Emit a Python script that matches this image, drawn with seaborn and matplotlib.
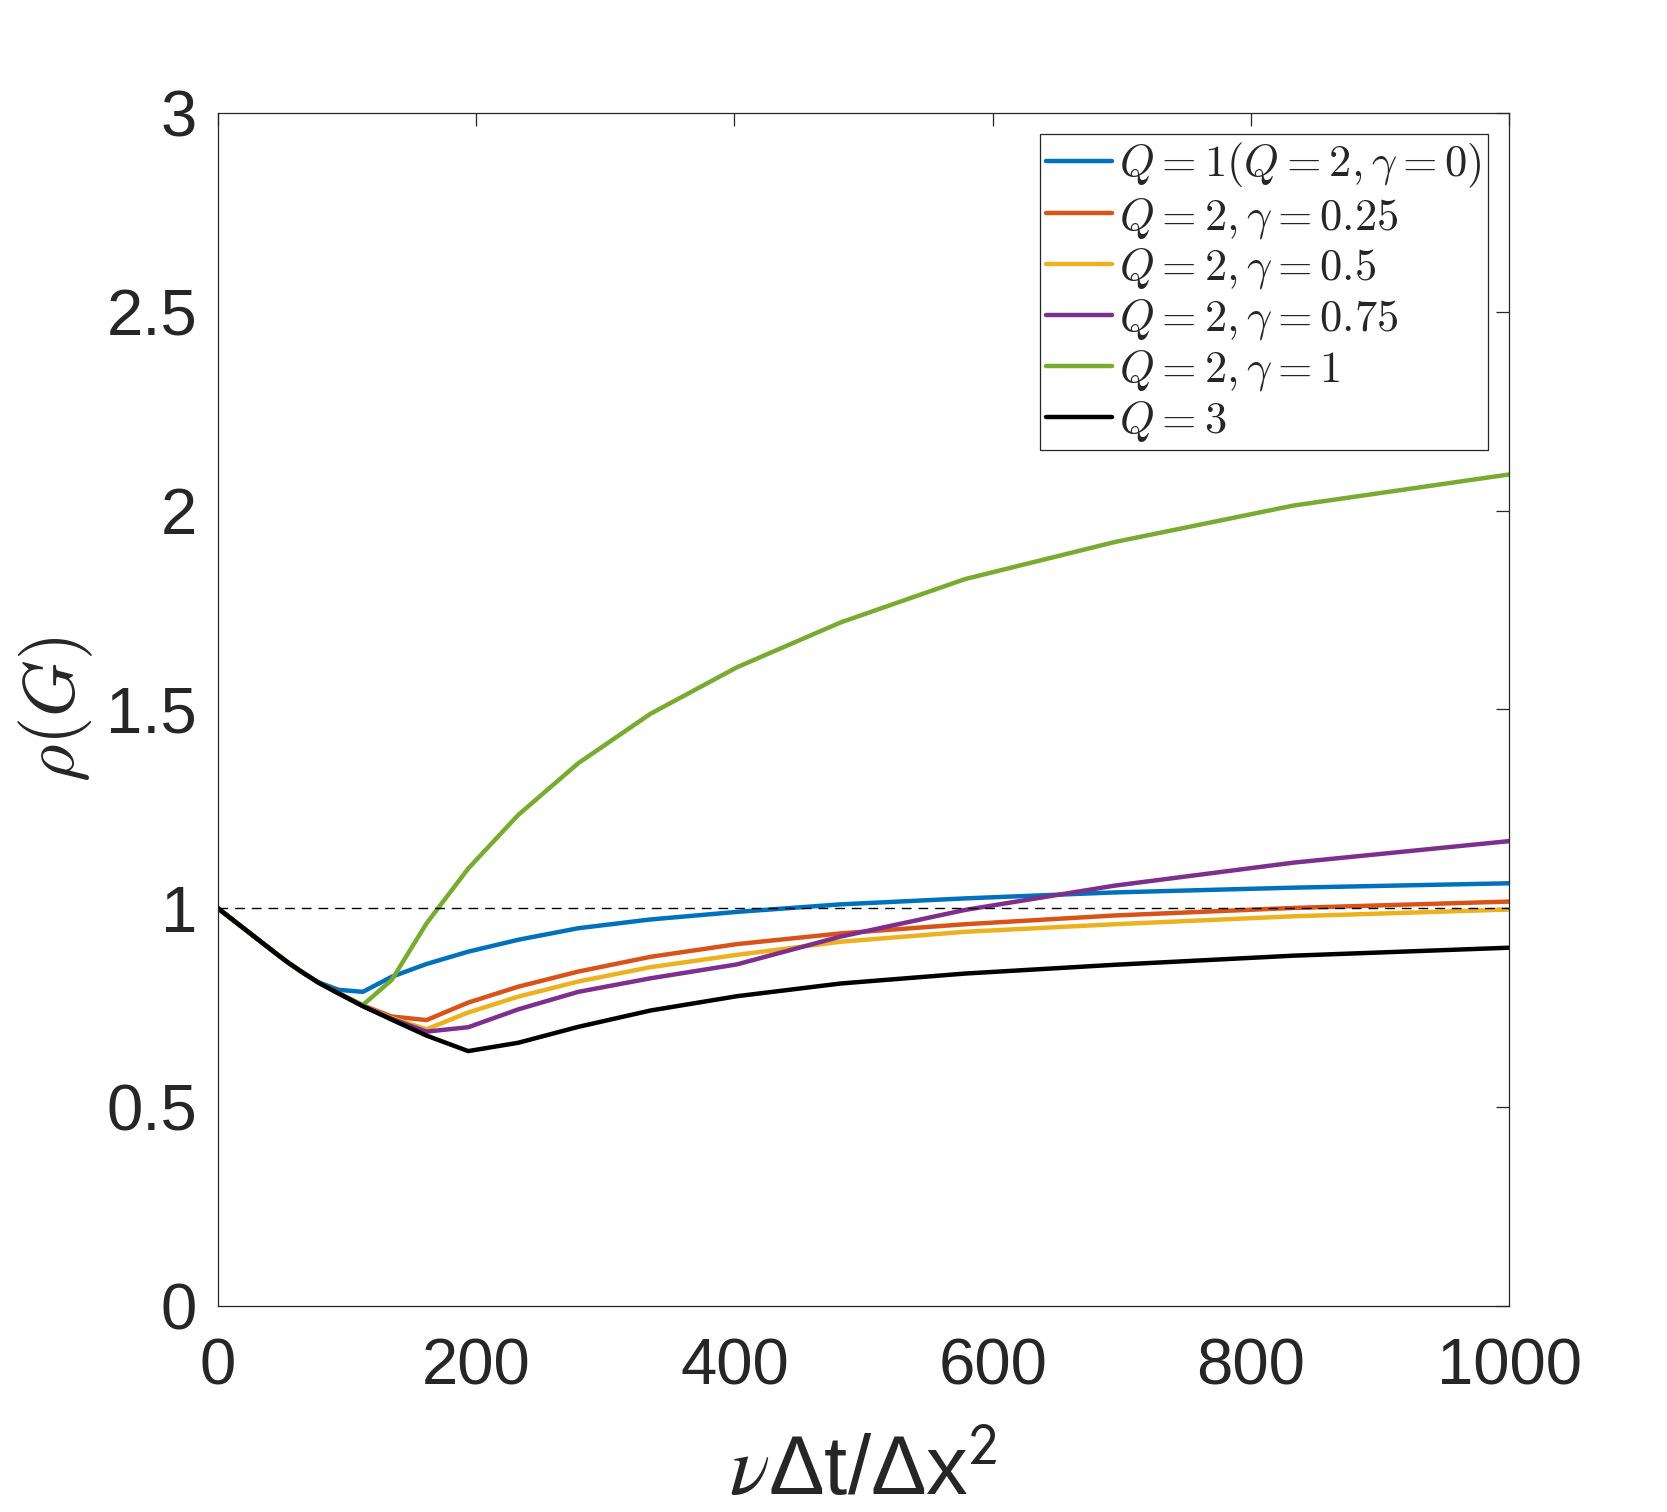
import numpy as np
import pandas as pd
import seaborn as sns
import matplotlib.pyplot as plt

# nu*dt/dx^2 sample points
x_vals = [0, 37.6, 45.1, 54.1, 64.9, 77.9, 93.5, 112.2, 134.6, 161.5, 193.8,
          232.6, 279.1, 334.9, 401.9, 482.3, 578.7, 694.4, 833.3, 1000]

rho_q1 = [1.0, 0.905, 0.886, 0.864, 0.840, 0.814, 0.795, 0.790, 0.828, 0.860, 0.891,
          0.921, 0.950, 0.972, 0.991, 1.010, 1.025, 1.040, 1.052, 1.063]
rho_g025 = [1.0, 0.905, 0.886, 0.864, 0.840, 0.813, 0.786, 0.756, 0.728, 0.719, 0.763,
            0.803, 0.841, 0.878, 0.910, 0.937, 0.960, 0.982, 1.001, 1.017]
rho_g05 = [1.0, 0.905, 0.886, 0.864, 0.840, 0.813, 0.786, 0.754, 0.724, 0.696, 0.738,
           0.778, 0.816, 0.852, 0.883, 0.916, 0.941, 0.960, 0.980, 0.997]
rho_g075 = [1.0, 0.905, 0.886, 0.864, 0.840, 0.813, 0.786, 0.754, 0.722, 0.690, 0.701,
            0.746, 0.790, 0.824, 0.859, 0.929, 0.996, 1.057, 1.115, 1.169]
rho_g1 = [1.0, 0.905, 0.886, 0.864, 0.840, 0.813, 0.786, 0.757, 0.820, 0.962, 1.100,
          1.235, 1.365, 1.489, 1.606, 1.719, 1.828, 1.921, 2.013, 2.091]
rho_q3 = [1.0, 0.905, 0.886, 0.864, 0.840, 0.813, 0.786, 0.754, 0.720, 0.680, 0.641,
          0.662, 0.702, 0.743, 0.779, 0.811, 0.836, 0.858, 0.881, 0.901]

series_labels = [r"$Q=1(Q=2,\gamma=0)$", r"$Q=2,\gamma=0.25$", r"$Q=2,\gamma=0.5$",
                 r"$Q=2,\gamma=0.75$", r"$Q=2,\gamma=1$", r"$Q=3$"]
line_colors = ["#0072BD", "#D95319", "#EDB120", "#7E2F8E", "#77AC30", "#000000"]

x_ticks = [0, 200, 400, 600, 800, 1000]
x_tick_labels = ["0", "200", "400", "600", "800", "1000"]
y_ticks = [0, 0.5, 1, 1.5, 2, 2.5, 3]
y_tick_labels = ["0", "0.5", "1", "1.5", "2", "2.5", "3"]

sns.set_style("white")
plt.rcParams['font.family'] = ['Liberation Sans', 'DejaVu Sans']
plt.rcParams['mathtext.fontset'] = 'cm'

rows = []
for lab, ys in zip(series_labels, [rho_q1, rho_g025, rho_g05, rho_g075, rho_g1, rho_q3]):
    for xv, yv in zip(x_vals, ys):
        rows.append({'x': xv, 'rho': yv, 'series': lab})
df = pd.DataFrame(rows)

fig = plt.figure(figsize=(16.67, 15.12), dpi=100)
ax = fig.add_axes([218 / 1667, 1 - 1306 / 1512, (1509 - 218) / 1667, (1306 - 113) / 1512])

sns.lineplot(data=df, x='x', y='rho', hue='series', hue_order=series_labels,
             palette=line_colors, linewidth=3.2, sort=False, ax=ax)
ax.axhline(1, color='black', lw=1.0, ls=(0, (7, 5)), zorder=5)

ax.set_xlim(0, 1000)
ax.set_ylim(0, 3)
ax.set_xticks(x_ticks)
ax.set_xticklabels(x_tick_labels)
ax.set_yticks(y_ticks)
ax.set_yticklabels(y_tick_labels)
ax.tick_params(direction='in', top=True, right=True, length=9.5, width=0.9,
               labelsize=47, labelcolor='#262626', color='#262626')
ax.tick_params(axis='x', pad=23)
ax.tick_params(axis='y', pad=15)
for sp in ax.spines.values():
    sp.set_color('#262626')
    sp.set_linewidth(0.9)

ax.set_xlabel(r"$\nu$Δt/Δx$^{\mathsf{2}}$", fontsize=60, color='#262626', labelpad=26,
              math_fontfamily='stix')
ax.set_ylabel(r"$\rho(G)$", fontsize=52, color='#262626', labelpad=8)

handles, labels = ax.get_legend_handles_labels()
leg = ax.legend(handles, labels, loc='upper right', fontsize=32, frameon=True,
                fancybox=False, framealpha=1, edgecolor='#262626',
                handlelength=1.47, handletextpad=0.16, labelspacing=0.13,
                borderpad=0.15, borderaxespad=0.47)
leg.get_frame().set_linewidth(0.9)

fig.savefig('out.png', dpi=100)
